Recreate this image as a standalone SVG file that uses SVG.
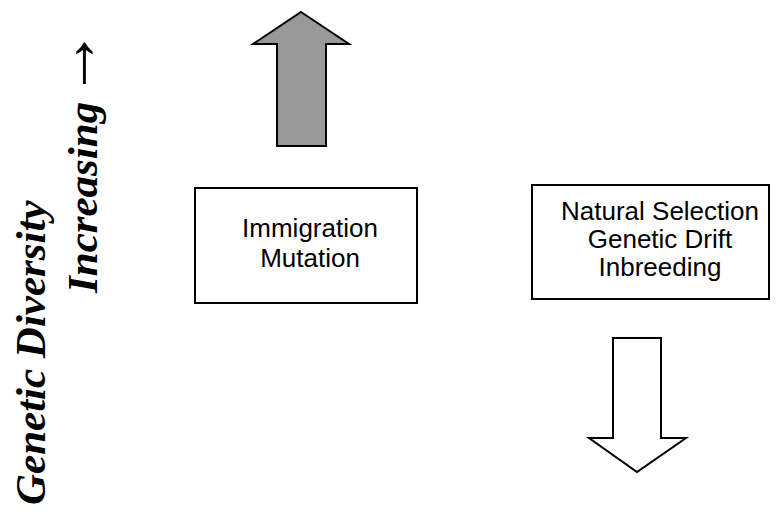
<svg xmlns="http://www.w3.org/2000/svg" width="780" height="523" viewBox="0 0 780 523">
<style>
.box{fill:#fff;stroke:#000;stroke-width:2}
.lbl{font-family:"Liberation Sans",Arial,sans-serif;font-size:26px;fill:#000;text-anchor:middle}
.axis{font-family:"Liberation Serif","Times New Roman","DejaVu Serif",serif;font-size:43px;font-weight:bold;font-style:italic;fill:#000}
.sym{font-family:"Liberation Serif","DejaVu Serif",serif;font-size:70px;fill:#000}
.arr{stroke:#000;stroke-width:2;stroke-linejoin:miter}
</style>
<rect width="780" height="523" fill="#fff"/>
<g id="axis-label">
<text class="axis" transform="translate(45,505) rotate(-90)">Genetic Diversity</text>
<text class="axis" transform="translate(97,293) rotate(-90)">Increasing</text>
<text class="sym" transform="translate(96,98) rotate(-90)">→</text>
</g>
<g id="connectors">
<polygon id="up-arrow" class="arr" fill="#999999" points="301,12 349,44 326,44 326,146 277,146 277,44 253,44"/>
<polygon id="down-arrow" class="arr" fill="#ffffff" points="613,338 661,338 661,438 686,438 637,472 589,438 613,438"/>
</g>
<g id="box-increase">
<rect class="box" x="195" y="188" width="222" height="115"/>
<text class="lbl" x="310" y="237">Immigration</text>
<text class="lbl" x="310" y="267">Mutation</text>
</g>
<g id="box-decrease">
<rect class="box" x="532" y="185" width="237" height="114"/>
<text class="lbl" x="660" y="220">Natural Selection</text>
<text class="lbl" x="660" y="248">Genetic Drift</text>
<text class="lbl" x="660" y="276">Inbreeding</text>
</g>
</svg>
